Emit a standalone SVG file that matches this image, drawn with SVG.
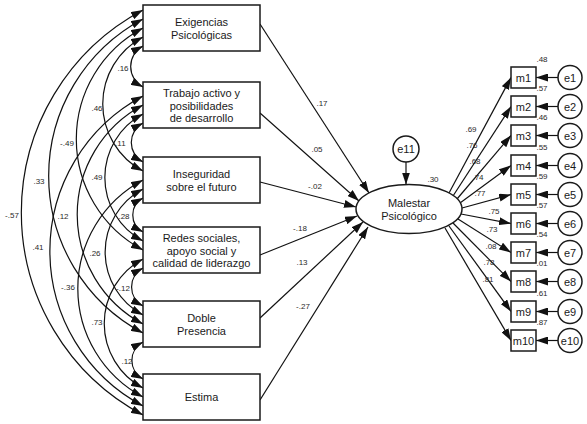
<svg xmlns="http://www.w3.org/2000/svg" width="587" height="424" viewBox="0 0 587 424">
<style>
.bg{fill:#ffffff}
.box{fill:#ffffff;stroke:#1a1a1a;stroke-width:1.5}
.lat{fill:#ffffff;stroke:#1a1a1a;stroke-width:1.5}
.t{font-family:"Liberation Sans",Arial,sans-serif;font-size:11px;fill:#1a1a1a;text-anchor:middle}
.lb{font-family:"Liberation Sans",Arial,sans-serif;font-size:8px;fill:#2a2a2a;text-anchor:middle}
.ln{fill:none;stroke:#111;stroke-width:1.2;marker-end:url(#ah)}
.arc{fill:none;stroke:#111;stroke-width:1.2;marker-start:url(#ah);marker-end:url(#ah)}
</style>
<defs>
<marker id="ah" viewBox="0 0 12 8" refX="12" refY="4" markerWidth="12" markerHeight="8" markerUnits="userSpaceOnUse" orient="auto-start-reverse">
<path d="M0,0 L12,4 L0,8 z" fill="#111"/>
</marker>
</defs>
<rect class="bg" x="0" y="0" width="587" height="424"/>

<g id="connectors">
<!-- covariances -->
<path class="arc" d="M143,46 A23.22,23.22 0 0 0 143,87"/>
<path class="arc" d="M143,37 A75.88,75.88 0 0 0 143,171"/>
<path class="arc" d="M143,28 A125.72,125.72 0 0 0 143,250"/>
<path class="arc" d="M143,19 A177.82,177.82 0 0 0 143,333"/>
<path class="arc" d="M143,10 A229.35,229.35 0 0 0 143,415"/>
<path class="arc" d="M143,123 A22.09,22.09 0 0 0 143,162"/>
<path class="arc" d="M143,114 A71.92,71.92 0 0 0 143,241"/>
<path class="arc" d="M143,105 A124.02,124.02 0 0 0 143,324"/>
<path class="arc" d="M143,96 A175.55,175.55 0 0 0 143,406"/>
<path class="arc" d="M143,198 A19.25,19.25 0 0 0 143,232"/>
<path class="arc" d="M143,189 A71.35,71.35 0 0 0 143,315"/>
<path class="arc" d="M143,180 A122.89,122.89 0 0 0 143,397"/>
<path class="arc" d="M143,268 A21.52,21.52 0 0 0 143,306"/>
<path class="arc" d="M143,259 A73.05,73.05 0 0 0 143,388"/>
<path class="arc" d="M143,342 A20.95,20.95 0 0 0 143,379"/>
<!-- regressions -->
<line class="ln" x1="260" y1="24" x2="369" y2="193"/>
<line class="ln" x1="260" y1="113" x2="359" y2="201"/>
<line class="ln" x1="260" y1="182" x2="356" y2="207"/>
<line class="ln" x1="260" y1="255" x2="357" y2="216"/>
<line class="ln" x1="260" y1="318" x2="363" y2="222"/>
<line class="ln" x1="260" y1="400" x2="368" y2="227"/>
<line class="ln" x1="406" y1="162" x2="406" y2="184.5"/>
<!-- loadings -->
<line class="ln" x1="449" y1="193" x2="511" y2="77.5"/>
<line class="ln" x1="453" y1="196" x2="511" y2="106.5"/>
<line class="ln" x1="457" y1="199" x2="511" y2="135.5"/>
<line class="ln" x1="460" y1="203" x2="511" y2="165.5"/>
<line class="ln" x1="462" y1="208" x2="511" y2="194.5"/>
<line class="ln" x1="461" y1="214" x2="511" y2="223.5"/>
<line class="ln" x1="458" y1="219" x2="511" y2="252.5"/>
<line class="ln" x1="453" y1="223" x2="511" y2="281.5"/>
<line class="ln" x1="449" y1="226" x2="511" y2="311.5"/>
<line class="ln" x1="445" y1="228" x2="511" y2="340.5"/>
<!-- errors -->
<line class="ln" x1="558" y1="77.5" x2="536" y2="77.5"/>
<line class="ln" x1="558" y1="106.5" x2="536" y2="106.5"/>
<line class="ln" x1="558" y1="135.5" x2="536" y2="135.5"/>
<line class="ln" x1="558" y1="165.5" x2="536" y2="165.5"/>
<line class="ln" x1="558" y1="194.5" x2="536" y2="194.5"/>
<line class="ln" x1="558" y1="223.5" x2="536" y2="223.5"/>
<line class="ln" x1="558" y1="252.5" x2="536" y2="252.5"/>
<line class="ln" x1="558" y1="281.5" x2="536" y2="281.5"/>
<line class="ln" x1="558" y1="311.5" x2="536" y2="311.5"/>
<line class="ln" x1="558" y1="340.5" x2="536" y2="340.5"/>
<!-- labels -->
<text class="lb" x="123" y="71">.16</text>
<text class="lb" x="97" y="111">.46</text>
<text class="lb" x="67" y="146">-.49</text>
<text class="lb" x="39" y="184">.33</text>
<text class="lb" x="12" y="218">-.57</text>
<text class="lb" x="119" y="146">-.11</text>
<text class="lb" x="97" y="180">.49</text>
<text class="lb" x="63" y="219">.12</text>
<text class="lb" x="38" y="250">.41</text>
<text class="lb" x="124" y="219">.28</text>
<text class="lb" x="95" y="256">.26</text>
<text class="lb" x="68" y="290">-.36</text>
<text class="lb" x="123" y="291">-.12</text>
<text class="lb" x="97" y="325">.73</text>
<text class="lb" x="127" y="364">.12</text>
<text class="lb" x="322" y="106">.17</text>
<text class="lb" x="317" y="152">.05</text>
<text class="lb" x="315" y="189">-.02</text>
<text class="lb" x="300" y="231">-.18</text>
<text class="lb" x="302" y="265">.13</text>
<text class="lb" x="303" y="309">-.27</text>
<text class="lb" x="433" y="182">.30</text>
<text class="lb" x="471" y="132">.69</text>
<text class="lb" x="472" y="148">.76</text>
<text class="lb" x="475" y="164">.68</text>
<text class="lb" x="478" y="180">.74</text>
<text class="lb" x="480" y="196">.77</text>
<text class="lb" x="494" y="214">.75</text>
<text class="lb" x="492" y="232">.73</text>
<text class="lb" x="491" y="249">.08</text>
<text class="lb" x="489" y="265">.78</text>
<text class="lb" x="488" y="282">.81</text>
<text class="lb" x="542" y="62">.48</text>
<text class="lb" x="542" y="91">.57</text>
<text class="lb" x="542" y="120">.46</text>
<text class="lb" x="542" y="150">.55</text>
<text class="lb" x="542" y="179">.59</text>
<text class="lb" x="542" y="208">.57</text>
<text class="lb" x="542" y="237">.54</text>
<text class="lb" x="542" y="266">.01</text>
<text class="lb" x="542" y="296">.61</text>
<text class="lb" x="542" y="325">.87</text>
</g>

<g id="exigencias">
<rect class="box" x="143" y="5" width="117" height="46"/>
<text class="t" x="201.5" y="25.5">Exigencias</text>
<text class="t" x="201.5" y="38.5">Psicológicas</text>
</g>
<g id="trabajo">
<rect class="box" x="143" y="82" width="117" height="46"/>
<text class="t" x="201.5" y="96.5">Trabajo activo y</text>
<text class="t" x="201.5" y="109.5">posibilidades</text>
<text class="t" x="201.5" y="122">de desarrollo</text>
</g>
<g id="inseguridad">
<rect class="box" x="143" y="157" width="117" height="46"/>
<text class="t" x="201.5" y="177.5">Inseguridad</text>
<text class="t" x="201.5" y="190.5">sobre el futuro</text>
</g>
<g id="redes">
<rect class="box" x="143" y="227" width="117" height="46"/>
<text class="t" x="201.5" y="241.5">Redes sociales,</text>
<text class="t" x="201.5" y="254.5">apoyo social y</text>
<text class="t" x="201.5" y="267">calidad de liderazgo</text>
</g>
<g id="doble">
<rect class="box" x="143" y="301" width="117" height="46"/>
<text class="t" x="201.5" y="321.5">Doble</text>
<text class="t" x="201.5" y="334.5">Presencia</text>
</g>
<g id="estima">
<rect class="box" x="143" y="374" width="117" height="46"/>
<text class="t" x="201.5" y="401">Estima</text>
</g>
<g id="malestar">
<ellipse class="lat" cx="409" cy="209" rx="53" ry="24.5"/>
<text class="t" x="409" y="206.5">Malestar</text>
<text class="t" x="409" y="219.5">Psicológico</text>
</g>
<g id="e11">
<circle class="lat" cx="406" cy="149" r="13"/>
<text class="t" x="406" y="153">e11</text>
</g>
<g id="m1"><rect class="box" x="511" y="67" width="25" height="21"/><text class="t" x="523.5" y="81.5">m1</text></g>
<g id="m2"><rect class="box" x="511" y="96" width="25" height="21"/><text class="t" x="523.5" y="110.5">m2</text></g>
<g id="m3"><rect class="box" x="511" y="125" width="25" height="21"/><text class="t" x="523.5" y="139.5">m3</text></g>
<g id="m4"><rect class="box" x="511" y="155" width="25" height="21"/><text class="t" x="523.5" y="169.5">m4</text></g>
<g id="m5"><rect class="box" x="511" y="184" width="25" height="21"/><text class="t" x="523.5" y="198.5">m5</text></g>
<g id="m6"><rect class="box" x="511" y="213" width="25" height="21"/><text class="t" x="523.5" y="227.5">m6</text></g>
<g id="m7"><rect class="box" x="511" y="242" width="25" height="21"/><text class="t" x="523.5" y="256.5">m7</text></g>
<g id="m8"><rect class="box" x="511" y="271" width="25" height="21"/><text class="t" x="523.5" y="285.5">m8</text></g>
<g id="m9"><rect class="box" x="511" y="301" width="25" height="21"/><text class="t" x="523.5" y="315.5">m9</text></g>
<g id="m10"><rect class="box" x="511" y="330" width="25" height="21"/><text class="t" x="523.5" y="344.5">m10</text></g>
<g id="e1"><circle class="lat" cx="570" cy="77.5" r="12"/><text class="t" x="570" y="81.5">e1</text></g>
<g id="e2"><circle class="lat" cx="570" cy="106.5" r="12"/><text class="t" x="570" y="110.5">e2</text></g>
<g id="e3"><circle class="lat" cx="570" cy="135.5" r="12"/><text class="t" x="570" y="139.5">e3</text></g>
<g id="e4"><circle class="lat" cx="570" cy="165.5" r="12"/><text class="t" x="570" y="169.5">e4</text></g>
<g id="e5"><circle class="lat" cx="570" cy="194.5" r="12"/><text class="t" x="570" y="198.5">e5</text></g>
<g id="e6"><circle class="lat" cx="570" cy="223.5" r="12"/><text class="t" x="570" y="227.5">e6</text></g>
<g id="e7"><circle class="lat" cx="570" cy="252.5" r="12"/><text class="t" x="570" y="256.5">e7</text></g>
<g id="e8"><circle class="lat" cx="570" cy="281.5" r="12"/><text class="t" x="570" y="285.5">e8</text></g>
<g id="e9"><circle class="lat" cx="570" cy="311.5" r="12"/><text class="t" x="570" y="315.5">e9</text></g>
<g id="e10"><circle class="lat" cx="570" cy="340.5" r="12"/><text class="t" x="570" y="344.5">e10</text></g>
</svg>
